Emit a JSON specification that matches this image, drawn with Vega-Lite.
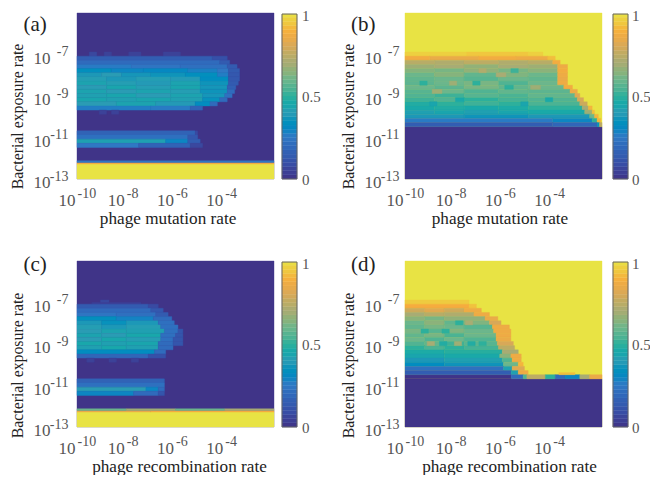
{"$schema":"https://vega.github.io/schema/vega-lite/v6.json","background":"white","padding":{"left":8,"top":9,"right":0,"bottom":0},"bounds":"flush","columns":2,"spacing":{"column":131,"row":82},
"datasets":{
"cb1":[{"x":-1.675,"x2":-1.066,"y":-13,"y2":-12.8,"v":0.01},{"x":-1.675,"x2":-1.066,"y":-12.8,"y2":-12.6,"v":0.04},{"x":-1.675,"x2":-1.066,"y":-12.6,"y2":-12.4,"v":0.06},{"x":-1.675,"x2":-1.066,"y":-12.4,"y2":-12.2,"v":0.09},{"x":-1.675,"x2":-1.066,"y":-12.2,"y2":-12,"v":0.11},{"x":-1.675,"x2":-1.066,"y":-12,"y2":-11.8,"v":0.14},{"x":-1.675,"x2":-1.066,"y":-11.8,"y2":-11.6,"v":0.16},{"x":-1.675,"x2":-1.066,"y":-11.6,"y2":-11.4,"v":0.19},{"x":-1.675,"x2":-1.066,"y":-11.4,"y2":-11.2,"v":0.21},{"x":-1.675,"x2":-1.066,"y":-11.2,"y2":-11,"v":0.24},{"x":-1.675,"x2":-1.066,"y":-11,"y2":-10.8,"v":0.26},{"x":-1.675,"x2":-1.066,"y":-10.8,"y2":-10.6,"v":0.29},{"x":-1.675,"x2":-1.066,"y":-10.6,"y2":-10.4,"v":0.31},{"x":-1.675,"x2":-1.066,"y":-10.4,"y2":-10.2,"v":0.34},{"x":-1.675,"x2":-1.066,"y":-10.2,"y2":-10,"v":0.36},{"x":-1.675,"x2":-1.066,"y":-10,"y2":-9.8,"v":0.39},{"x":-1.675,"x2":-1.066,"y":-9.8,"y2":-9.6,"v":0.41},{"x":-1.675,"x2":-1.066,"y":-9.6,"y2":-9.4,"v":0.44},{"x":-1.675,"x2":-1.066,"y":-9.4,"y2":-9.2,"v":0.46},{"x":-1.675,"x2":-1.066,"y":-9.2,"y2":-9,"v":0.49},{"x":-1.675,"x2":-1.066,"y":-9,"y2":-8.8,"v":0.51},{"x":-1.675,"x2":-1.066,"y":-8.8,"y2":-8.6,"v":0.54},{"x":-1.675,"x2":-1.066,"y":-8.6,"y2":-8.4,"v":0.56},{"x":-1.675,"x2":-1.066,"y":-8.4,"y2":-8.2,"v":0.59},{"x":-1.675,"x2":-1.066,"y":-8.2,"y2":-8,"v":0.61},{"x":-1.675,"x2":-1.066,"y":-8,"y2":-7.8,"v":0.64},{"x":-1.675,"x2":-1.066,"y":-7.8,"y2":-7.6,"v":0.66},{"x":-1.675,"x2":-1.066,"y":-7.6,"y2":-7.4,"v":0.69},{"x":-1.675,"x2":-1.066,"y":-7.4,"y2":-7.2,"v":0.71},{"x":-1.675,"x2":-1.066,"y":-7.2,"y2":-7,"v":0.74},{"x":-1.675,"x2":-1.066,"y":-7,"y2":-6.8,"v":0.76},{"x":-1.675,"x2":-1.066,"y":-6.8,"y2":-6.6,"v":0.79},{"x":-1.675,"x2":-1.066,"y":-6.6,"y2":-6.4,"v":0.81},{"x":-1.675,"x2":-1.066,"y":-6.4,"y2":-6.2,"v":0.84},{"x":-1.675,"x2":-1.066,"y":-6.2,"y2":-6,"v":0.86},{"x":-1.675,"x2":-1.066,"y":-6,"y2":-5.8,"v":0.89},{"x":-1.675,"x2":-1.066,"y":-5.8,"y2":-5.6,"v":0.91},{"x":-1.675,"x2":-1.066,"y":-5.6,"y2":-5.4,"v":0.94},{"x":-1.675,"x2":-1.066,"y":-5.4,"y2":-5.2,"v":0.96},{"x":-1.675,"x2":-1.066,"y":-5.2,"y2":-5.05,"v":0.99}],
"cb2":[{"x":-1.553,"x2":-0.944,"y":-13,"y2":-12.8,"v":0.01},{"x":-1.553,"x2":-0.944,"y":-12.8,"y2":-12.6,"v":0.04},{"x":-1.553,"x2":-0.944,"y":-12.6,"y2":-12.4,"v":0.06},{"x":-1.553,"x2":-0.944,"y":-12.4,"y2":-12.2,"v":0.09},{"x":-1.553,"x2":-0.944,"y":-12.2,"y2":-12,"v":0.11},{"x":-1.553,"x2":-0.944,"y":-12,"y2":-11.8,"v":0.14},{"x":-1.553,"x2":-0.944,"y":-11.8,"y2":-11.6,"v":0.16},{"x":-1.553,"x2":-0.944,"y":-11.6,"y2":-11.4,"v":0.19},{"x":-1.553,"x2":-0.944,"y":-11.4,"y2":-11.2,"v":0.21},{"x":-1.553,"x2":-0.944,"y":-11.2,"y2":-11,"v":0.24},{"x":-1.553,"x2":-0.944,"y":-11,"y2":-10.8,"v":0.26},{"x":-1.553,"x2":-0.944,"y":-10.8,"y2":-10.6,"v":0.29},{"x":-1.553,"x2":-0.944,"y":-10.6,"y2":-10.4,"v":0.31},{"x":-1.553,"x2":-0.944,"y":-10.4,"y2":-10.2,"v":0.34},{"x":-1.553,"x2":-0.944,"y":-10.2,"y2":-10,"v":0.36},{"x":-1.553,"x2":-0.944,"y":-10,"y2":-9.8,"v":0.39},{"x":-1.553,"x2":-0.944,"y":-9.8,"y2":-9.6,"v":0.41},{"x":-1.553,"x2":-0.944,"y":-9.6,"y2":-9.4,"v":0.44},{"x":-1.553,"x2":-0.944,"y":-9.4,"y2":-9.2,"v":0.46},{"x":-1.553,"x2":-0.944,"y":-9.2,"y2":-9,"v":0.49},{"x":-1.553,"x2":-0.944,"y":-9,"y2":-8.8,"v":0.51},{"x":-1.553,"x2":-0.944,"y":-8.8,"y2":-8.6,"v":0.54},{"x":-1.553,"x2":-0.944,"y":-8.6,"y2":-8.4,"v":0.56},{"x":-1.553,"x2":-0.944,"y":-8.4,"y2":-8.2,"v":0.59},{"x":-1.553,"x2":-0.944,"y":-8.2,"y2":-8,"v":0.61},{"x":-1.553,"x2":-0.944,"y":-8,"y2":-7.8,"v":0.64},{"x":-1.553,"x2":-0.944,"y":-7.8,"y2":-7.6,"v":0.66},{"x":-1.553,"x2":-0.944,"y":-7.6,"y2":-7.4,"v":0.69},{"x":-1.553,"x2":-0.944,"y":-7.4,"y2":-7.2,"v":0.71},{"x":-1.553,"x2":-0.944,"y":-7.2,"y2":-7,"v":0.74},{"x":-1.553,"x2":-0.944,"y":-7,"y2":-6.8,"v":0.76},{"x":-1.553,"x2":-0.944,"y":-6.8,"y2":-6.6,"v":0.79},{"x":-1.553,"x2":-0.944,"y":-6.6,"y2":-6.4,"v":0.81},{"x":-1.553,"x2":-0.944,"y":-6.4,"y2":-6.2,"v":0.84},{"x":-1.553,"x2":-0.944,"y":-6.2,"y2":-6,"v":0.86},{"x":-1.553,"x2":-0.944,"y":-6,"y2":-5.8,"v":0.89},{"x":-1.553,"x2":-0.944,"y":-5.8,"y2":-5.6,"v":0.91},{"x":-1.553,"x2":-0.944,"y":-5.6,"y2":-5.4,"v":0.94},{"x":-1.553,"x2":-0.944,"y":-5.4,"y2":-5.2,"v":0.96},{"x":-1.553,"x2":-0.944,"y":-5.2,"y2":-5.05,"v":0.99}],
"bd1":[{"x":-1.675,"x2":-1.066,"y":-13,"y2":-5.05}],"bd2":[{"x":-1.553,"x2":-0.944,"y":-13,"y2":-5.05}],
"lb1":[{"x":-0.86,"y":-5.15,"t":"1"},{"x":-0.86,"y":-9.05,"t":"0.5"},{"x":-0.86,"y":-13.05,"t":"0"}],
"lb2":[{"x":-0.78,"y":-5.15,"t":"1"},{"x":-0.78,"y":-9.05,"t":"0.5"},{"x":-0.78,"y":-13.05,"t":"0"}],
"a":[{"x":-10,"x2":-2,"y":-13,"y2":-5,"v":0},{"x":-10,"x2":-2,"y":-13,"y2":-12.28,"v":1},{"x":-10,"x2":-2,"y":-12.28,"y2":-12.2,"v":0.87},{"x":-10,"x2":-2,"y":-12.2,"y2":-12.12,"v":0.25},
{"x":-9.5,"x2":-9.2,"y":-7.08,"y2":-6.88,"v":0.07},{"x":-8.9,"x2":-8.6,"y":-7.08,"y2":-6.88,"v":0.05},{"x":-7.9,"x2":-7.4,"y":-7.08,"y2":-6.88,"v":0.05},{"x":-6.5,"x2":-5.8,"y":-7.08,"y2":-6.88,"v":0.05},
{"x":-10,"x2":-4.5,"y":-7.28,"y2":-7.08,"v":0.15},{"x":-4.5,"x2":-3.9,"y":-7.28,"y2":-7.08,"v":0.1},
{"x":-10,"x2":-4.2,"y":-7.48,"y2":-7.28,"v":0.2},{"x":-4.2,"x2":-3.8,"y":-7.48,"y2":-7.28,"v":0.14},
{"x":-10,"x2":-7.8,"y":-7.68,"y2":-7.48,"v":0.26},{"x":-7.8,"x2":-5.8,"y":-7.68,"y2":-7.48,"v":0.24},{"x":-5.8,"x2":-3.9,"y":-7.68,"y2":-7.48,"v":0.22},{"x":-3.9,"x2":-3.5,"y":-7.68,"y2":-7.48,"v":0.14},
{"x":-10,"x2":-8.6,"y":-7.88,"y2":-7.68,"v":0.34},{"x":-8.6,"x2":-7.3,"y":-7.88,"y2":-7.68,"v":0.3},{"x":-7.3,"x2":-5.5,"y":-7.88,"y2":-7.68,"v":0.31},{"x":-5.5,"x2":-4.3,"y":-7.88,"y2":-7.68,"v":0.28},{"x":-4.3,"x2":-3.85,"y":-7.88,"y2":-7.68,"v":0.25},{"x":-3.85,"x2":-3.4,"y":-7.88,"y2":-7.68,"v":0.14},
{"x":-10,"x2":-9,"y":-8.08,"y2":-7.88,"v":0.38},{"x":-9,"x2":-8.2,"y":-8.08,"y2":-7.88,"v":0.4},{"x":-8.2,"x2":-7,"y":-8.08,"y2":-7.88,"v":0.37},{"x":-7,"x2":-5.6,"y":-8.08,"y2":-7.88,"v":0.36},{"x":-5.6,"x2":-4.3,"y":-8.08,"y2":-7.88,"v":0.34},{"x":-4.3,"x2":-3.85,"y":-8.08,"y2":-7.88,"v":0.27},{"x":-3.85,"x2":-3.4,"y":-8.08,"y2":-7.88,"v":0.13},
{"x":-10,"x2":-8.8,"y":-8.28,"y2":-8.08,"v":0.41},{"x":-8.8,"x2":-7.6,"y":-8.28,"y2":-8.08,"v":0.38},{"x":-7.6,"x2":-6.2,"y":-8.28,"y2":-8.08,"v":0.41},{"x":-6.2,"x2":-5,"y":-8.28,"y2":-8.08,"v":0.39},{"x":-5,"x2":-3.85,"y":-8.28,"y2":-8.08,"v":0.33},{"x":-3.85,"x2":-3.4,"y":-8.28,"y2":-8.08,"v":0.13},
{"x":-10,"x2":-8.8,"y":-8.48,"y2":-8.28,"v":0.43},{"x":-8.8,"x2":-7.6,"y":-8.48,"y2":-8.28,"v":0.41},{"x":-7.6,"x2":-6.2,"y":-8.48,"y2":-8.28,"v":0.39},{"x":-6.2,"x2":-5,"y":-8.48,"y2":-8.28,"v":0.43},{"x":-5,"x2":-3.85,"y":-8.48,"y2":-8.28,"v":0.36},{"x":-3.85,"x2":-3.45,"y":-8.48,"y2":-8.28,"v":0.14},
{"x":-10,"x2":-8.8,"y":-8.68,"y2":-8.48,"v":0.4},{"x":-8.8,"x2":-7.6,"y":-8.68,"y2":-8.48,"v":0.44},{"x":-7.6,"x2":-6.2,"y":-8.68,"y2":-8.48,"v":0.41},{"x":-6.2,"x2":-5,"y":-8.68,"y2":-8.48,"v":0.44},{"x":-5,"x2":-3.9,"y":-8.68,"y2":-8.48,"v":0.37},{"x":-3.9,"x2":-3.55,"y":-8.68,"y2":-8.48,"v":0.16},
{"x":-10,"x2":-8.8,"y":-8.88,"y2":-8.68,"v":0.43},{"x":-8.8,"x2":-7.6,"y":-8.88,"y2":-8.68,"v":0.4},{"x":-7.6,"x2":-6.2,"y":-8.88,"y2":-8.68,"v":0.43},{"x":-6.2,"x2":-5,"y":-8.88,"y2":-8.68,"v":0.41},{"x":-5,"x2":-3.9,"y":-8.88,"y2":-8.68,"v":0.36},{"x":-3.9,"x2":-3.6,"y":-8.88,"y2":-8.68,"v":0.2},
{"x":-10,"x2":-8.8,"y":-9.08,"y2":-8.88,"v":0.42},{"x":-8.8,"x2":-7.6,"y":-9.08,"y2":-8.88,"v":0.44},{"x":-7.6,"x2":-6.2,"y":-9.08,"y2":-8.88,"v":0.4},{"x":-6.2,"x2":-4.9,"y":-9.08,"y2":-8.88,"v":0.43},{"x":-4.9,"x2":-4,"y":-9.08,"y2":-8.88,"v":0.37},{"x":-4,"x2":-3.7,"y":-9.08,"y2":-8.88,"v":0.22},
{"x":-10,"x2":-8.8,"y":-9.28,"y2":-9.08,"v":0.44},{"x":-8.8,"x2":-7.6,"y":-9.28,"y2":-9.08,"v":0.42},{"x":-7.6,"x2":-6.2,"y":-9.28,"y2":-9.08,"v":0.44},{"x":-6.2,"x2":-4.9,"y":-9.28,"y2":-9.08,"v":0.42},{"x":-4.9,"x2":-4.2,"y":-9.28,"y2":-9.08,"v":0.35},{"x":-4.2,"x2":-3.9,"y":-9.28,"y2":-9.08,"v":0.2},
{"x":-10,"x2":-8.4,"y":-9.48,"y2":-9.28,"v":0.4},{"x":-8.4,"x2":-6.8,"y":-9.48,"y2":-9.28,"v":0.43},{"x":-6.8,"x2":-5.2,"y":-9.48,"y2":-9.28,"v":0.39},{"x":-5.2,"x2":-4.6,"y":-9.48,"y2":-9.28,"v":0.33},{"x":-4.6,"x2":-4.3,"y":-9.48,"y2":-9.28,"v":0.2},
{"x":-10,"x2":-7,"y":-9.68,"y2":-9.48,"v":0.27},{"x":-7,"x2":-5.4,"y":-9.68,"y2":-9.48,"v":0.26},{"x":-5.4,"x2":-4.9,"y":-9.68,"y2":-9.48,"v":0.17},
{"x":-9.1,"x2":-8.8,"y":-9.88,"y2":-9.68,"v":0.05},{"x":-8.6,"x2":-8.3,"y":-9.88,"y2":-9.68,"v":0.05},
{"x":-10,"x2":-5.2,"y":-10.88,"y2":-10.68,"v":0.17},{"x":-5.2,"x2":-5.1,"y":-10.88,"y2":-10.68,"v":0.08},
{"x":-10,"x2":-5.5,"y":-11.08,"y2":-10.88,"v":0.22},{"x":-5.5,"x2":-5.1,"y":-11.08,"y2":-10.88,"v":0.13},
{"x":-10,"x2":-6.4,"y":-11.28,"y2":-11.08,"v":0.42},{"x":-6.4,"x2":-5.5,"y":-11.28,"y2":-11.08,"v":0.3},{"x":-5.5,"x2":-5,"y":-11.28,"y2":-11.08,"v":0.15},
{"x":-10,"x2":-7.5,"y":-11.48,"y2":-11.28,"v":0.25},{"x":-7.5,"x2":-5.4,"y":-11.48,"y2":-11.28,"v":0.17},{"x":-5.4,"x2":-4.9,"y":-11.48,"y2":-11.28,"v":0.07}],
"b":[{"x":-10,"x2":-2,"y":-13,"y2":-5,"v":1},{"x":-10,"x2":-2,"y":-13,"y2":-10.48,"v":0},
{"x":-10,"x2":-7.5,"y":-7.08,"y2":-6.88,"v":0.96},{"x":-7.5,"x2":-5,"y":-7.08,"y2":-6.88,"v":0.94},{"x":-5,"x2":-4.4,"y":-7.08,"y2":-6.88,"v":0.96},
{"x":-10,"x2":-9,"y":-7.28,"y2":-7.08,"v":0.87},{"x":-9,"x2":-7,"y":-7.28,"y2":-7.08,"v":0.85},{"x":-7,"x2":-5.5,"y":-7.28,"y2":-7.08,"v":0.87},{"x":-5.5,"x2":-4.2,"y":-7.28,"y2":-7.08,"v":0.86},{"x":-4.2,"x2":-3.9,"y":-7.28,"y2":-7.08,"v":0.92},
{"x":-10,"x2":-8.8,"y":-7.48,"y2":-7.28,"v":0.74},{"x":-8.8,"x2":-7.6,"y":-7.48,"y2":-7.28,"v":0.72},{"x":-7.6,"x2":-6.2,"y":-7.48,"y2":-7.28,"v":0.75},{"x":-6.2,"x2":-5,"y":-7.48,"y2":-7.28,"v":0.72},{"x":-5,"x2":-4,"y":-7.48,"y2":-7.28,"v":0.74},{"x":-4,"x2":-3.7,"y":-7.48,"y2":-7.28,"v":0.87},
{"x":-10,"x2":-8.8,"y":-7.68,"y2":-7.48,"v":0.68},{"x":-8.8,"x2":-7.6,"y":-7.68,"y2":-7.48,"v":0.7},{"x":-7.6,"x2":-6.2,"y":-7.68,"y2":-7.48,"v":0.66},{"x":-6.2,"x2":-5,"y":-7.68,"y2":-7.48,"v":0.7},{"x":-5,"x2":-3.8,"y":-7.68,"y2":-7.48,"v":0.68},{"x":-3.8,"x2":-3.4,"y":-7.68,"y2":-7.48,"v":0.86},
{"x":-10,"x2":-8.8,"y":-7.88,"y2":-7.68,"v":0.64},{"x":-8.8,"x2":-7.6,"y":-7.88,"y2":-7.68,"v":0.62},{"x":-7.6,"x2":-6.2,"y":-7.88,"y2":-7.68,"v":0.66},{"x":-6.2,"x2":-5,"y":-7.88,"y2":-7.68,"v":0.62},{"x":-5,"x2":-3.8,"y":-7.88,"y2":-7.68,"v":0.65},{"x":-3.8,"x2":-3.4,"y":-7.88,"y2":-7.68,"v":0.87},
{"x":-10,"x2":-8.8,"y":-8.08,"y2":-7.88,"v":0.6},{"x":-8.8,"x2":-7.6,"y":-8.08,"y2":-7.88,"v":0.64},{"x":-7.6,"x2":-6.2,"y":-8.08,"y2":-7.88,"v":0.58},{"x":-6.2,"x2":-5,"y":-8.08,"y2":-7.88,"v":0.63},{"x":-5,"x2":-3.8,"y":-8.08,"y2":-7.88,"v":0.6},{"x":-3.8,"x2":-3.4,"y":-8.08,"y2":-7.88,"v":0.86},
{"x":-10,"x2":-8.8,"y":-8.28,"y2":-8.08,"v":0.58},{"x":-8.8,"x2":-7.6,"y":-8.28,"y2":-8.08,"v":0.6},{"x":-7.6,"x2":-6.2,"y":-8.28,"y2":-8.08,"v":0.56},{"x":-6.2,"x2":-5,"y":-8.28,"y2":-8.08,"v":0.6},{"x":-5,"x2":-3.8,"y":-8.28,"y2":-8.08,"v":0.58},{"x":-3.8,"x2":-3.4,"y":-8.28,"y2":-8.08,"v":0.85},
{"x":-10,"x2":-8.8,"y":-8.48,"y2":-8.28,"v":0.57},{"x":-8.8,"x2":-7.6,"y":-8.48,"y2":-8.28,"v":0.6},{"x":-7.6,"x2":-6.2,"y":-8.48,"y2":-8.28,"v":0.62},{"x":-6.2,"x2":-5,"y":-8.48,"y2":-8.28,"v":0.55},{"x":-5,"x2":-3.8,"y":-8.48,"y2":-8.28,"v":0.6},{"x":-3.8,"x2":-3.4,"y":-8.48,"y2":-8.28,"v":0.86},
{"x":-10,"x2":-8.8,"y":-8.68,"y2":-8.48,"v":0.6},{"x":-8.8,"x2":-7.6,"y":-8.68,"y2":-8.48,"v":0.57},{"x":-7.6,"x2":-6.2,"y":-8.68,"y2":-8.48,"v":0.62},{"x":-6.2,"x2":-5,"y":-8.68,"y2":-8.48,"v":0.58},{"x":-5,"x2":-3.55,"y":-8.68,"y2":-8.48,"v":0.6},{"x":-3.55,"x2":-3.2,"y":-8.68,"y2":-8.48,"v":0.87},
{"x":-10,"x2":-8.8,"y":-8.88,"y2":-8.68,"v":0.56},{"x":-8.8,"x2":-7.6,"y":-8.88,"y2":-8.68,"v":0.6},{"x":-7.6,"x2":-6.2,"y":-8.88,"y2":-8.68,"v":0.55},{"x":-6.2,"x2":-5,"y":-8.88,"y2":-8.68,"v":0.58},{"x":-5,"x2":-3.3,"y":-8.88,"y2":-8.68,"v":0.57},{"x":-3.3,"x2":-3,"y":-8.88,"y2":-8.68,"v":0.85},
{"x":-10,"x2":-8.8,"y":-9.08,"y2":-8.88,"v":0.55},{"x":-8.8,"x2":-7.6,"y":-9.08,"y2":-8.88,"v":0.52},{"x":-7.6,"x2":-6.2,"y":-9.08,"y2":-8.88,"v":0.56},{"x":-6.2,"x2":-5,"y":-9.08,"y2":-8.88,"v":0.54},{"x":-5,"x2":-3.1,"y":-9.08,"y2":-8.88,"v":0.58},{"x":-3.1,"x2":-2.9,"y":-9.08,"y2":-8.88,"v":0.82},
{"x":-10,"x2":-8.8,"y":-9.28,"y2":-9.08,"v":0.52},{"x":-8.8,"x2":-7.6,"y":-9.28,"y2":-9.08,"v":0.55},{"x":-7.6,"x2":-6.2,"y":-9.28,"y2":-9.08,"v":0.5},{"x":-6.2,"x2":-5,"y":-9.28,"y2":-9.08,"v":0.53},{"x":-5,"x2":-3,"y":-9.28,"y2":-9.08,"v":0.55},{"x":-3,"x2":-2.75,"y":-9.28,"y2":-9.08,"v":0.8},
{"x":-10,"x2":-8.8,"y":-9.48,"y2":-9.28,"v":0.48},{"x":-8.8,"x2":-7.6,"y":-9.48,"y2":-9.28,"v":0.5},{"x":-7.6,"x2":-6.2,"y":-9.48,"y2":-9.28,"v":0.52},{"x":-6.2,"x2":-5,"y":-9.48,"y2":-9.28,"v":0.5},{"x":-5,"x2":-2.9,"y":-9.48,"y2":-9.28,"v":0.54},{"x":-2.9,"x2":-2.6,"y":-9.48,"y2":-9.28,"v":0.78},
{"x":-10,"x2":-8.8,"y":-9.68,"y2":-9.48,"v":0.46},{"x":-8.8,"x2":-7.6,"y":-9.68,"y2":-9.48,"v":0.48},{"x":-7.6,"x2":-6.2,"y":-9.68,"y2":-9.48,"v":0.46},{"x":-6.2,"x2":-5,"y":-9.68,"y2":-9.48,"v":0.47},{"x":-5,"x2":-2.8,"y":-9.68,"y2":-9.48,"v":0.5},{"x":-2.8,"x2":-2.55,"y":-9.68,"y2":-9.48,"v":0.7},{"x":-2.55,"x2":-2.4,"y":-9.68,"y2":-9.48,"v":0.9},
{"x":-10,"x2":-8.8,"y":-9.88,"y2":-9.68,"v":0.42},{"x":-8.8,"x2":-7.6,"y":-9.88,"y2":-9.68,"v":0.44},{"x":-7.6,"x2":-6.2,"y":-9.88,"y2":-9.68,"v":0.42},{"x":-6.2,"x2":-5,"y":-9.88,"y2":-9.68,"v":0.44},{"x":-5,"x2":-2.7,"y":-9.88,"y2":-9.68,"v":0.46},{"x":-2.7,"x2":-2.4,"y":-9.88,"y2":-9.68,"v":0.68},{"x":-2.4,"x2":-2.3,"y":-9.88,"y2":-9.68,"v":0.92},
{"x":-10,"x2":-7.6,"y":-10.08,"y2":-9.88,"v":0.38},{"x":-7.6,"x2":-5,"y":-10.08,"y2":-9.88,"v":0.36},{"x":-5,"x2":-2.5,"y":-10.08,"y2":-9.88,"v":0.38},{"x":-2.5,"x2":-2.3,"y":-10.08,"y2":-9.88,"v":0.6},{"x":-2.3,"x2":-2.15,"y":-10.08,"y2":-9.88,"v":0.9},
{"x":-10,"x2":-4,"y":-10.28,"y2":-10.08,"v":0.26},{"x":-4,"x2":-2.4,"y":-10.28,"y2":-10.08,"v":0.3},{"x":-2.4,"x2":-2.2,"y":-10.28,"y2":-10.08,"v":0.5},{"x":-2.2,"x2":-2.05,"y":-10.28,"y2":-10.08,"v":0.9},
{"x":-10,"x2":-4,"y":-10.48,"y2":-10.28,"v":0.15},{"x":-4,"x2":-2.2,"y":-10.48,"y2":-10.28,"v":0.18},{"x":-2.2,"x2":-2.1,"y":-10.48,"y2":-10.28,"v":0.35},{"x":-2.1,"x2":-2,"y":-10.48,"y2":-10.28,"v":0.75},
{"x":-9.4,"x2":-9.1,"y":-8.48,"y2":-8.28,"v":0.5},{"x":-7.95,"x2":-7.6,"y":-9.28,"y2":-9.08,"v":0.46},{"x":-5.95,"x2":-5.6,"y":-8.68,"y2":-8.48,"v":0.5},{"x":-9,"x2":-8.7,"y":-9.48,"y2":-9.28,"v":0.44},{"x":-5.7,"x2":-5.4,"y":-7.88,"y2":-7.68,"v":0.52},{"x":-7.25,"x2":-6.95,"y":-8.48,"y2":-8.28,"v":0.5},{"x":-4.3,"x2":-4,"y":-9.28,"y2":-9.08,"v":0.46},{"x":-5.3,"x2":-5,"y":-9.48,"y2":-9.28,"v":0.44},{"x":-7,"x2":-6.7,"y":-7.88,"y2":-7.68,"v":0.72},{"x":-8.2,"x2":-7.9,"y":-8.48,"y2":-8.28,"v":0.68},{"x":-6.3,"x2":-5.9,"y":-8.08,"y2":-7.88,"v":0.7},{"x":-8.9,"x2":-8.5,"y":-8.88,"y2":-8.68,"v":0.68},{"x":-4.9,"x2":-4.5,"y":-8.68,"y2":-8.48,"v":0.68}],
"c":[{"x":-10,"x2":-2,"y":-13,"y2":-5,"v":0},{"x":-10,"x2":-2,"y":-13,"y2":-12.28,"v":1},{"x":-10,"x2":-7,"y":-12.28,"y2":-12.2,"v":0.85},{"x":-7,"x2":-2,"y":-12.28,"y2":-12.2,"v":0.88},{"x":-10,"x2":-8,"y":-12.2,"y2":-12.12,"v":0.6},{"x":-8,"x2":-6,"y":-12.2,"y2":-12.12,"v":0.68},{"x":-6,"x2":-4,"y":-12.2,"y2":-12.12,"v":0.6},{"x":-4,"x2":-2,"y":-12.2,"y2":-12.12,"v":0.7},
{"x":-9.05,"x2":-8.7,"y":-7.08,"y2":-6.88,"v":0.07},{"x":-9.4,"x2":-7.4,"y":-7.08,"y2":-7.0,"v":0.04},
{"x":-10,"x2":-7.1,"y":-7.28,"y2":-7.08,"v":0.14},{"x":-7.1,"x2":-6.7,"y":-7.28,"y2":-7.08,"v":0.08},
{"x":-10,"x2":-7,"y":-7.48,"y2":-7.28,"v":0.2},{"x":-7,"x2":-6.5,"y":-7.48,"y2":-7.28,"v":0.13},
{"x":-10,"x2":-8.4,"y":-7.68,"y2":-7.48,"v":0.24},{"x":-8.4,"x2":-6.8,"y":-7.68,"y2":-7.48,"v":0.22},{"x":-6.8,"x2":-6.3,"y":-7.68,"y2":-7.48,"v":0.14},
{"x":-10,"x2":-8.4,"y":-7.88,"y2":-7.68,"v":0.34},{"x":-8.4,"x2":-6.9,"y":-7.88,"y2":-7.68,"v":0.29},{"x":-6.9,"x2":-6.15,"y":-7.88,"y2":-7.68,"v":0.2},
{"x":-10,"x2":-9,"y":-8.08,"y2":-7.88,"v":0.38},{"x":-9,"x2":-8,"y":-8.08,"y2":-7.88,"v":0.35},{"x":-8,"x2":-6.7,"y":-8.08,"y2":-7.88,"v":0.38},{"x":-6.7,"x2":-6.05,"y":-8.08,"y2":-7.88,"v":0.22},
{"x":-10,"x2":-9,"y":-8.28,"y2":-8.08,"v":0.41},{"x":-9,"x2":-8,"y":-8.28,"y2":-8.08,"v":0.38},{"x":-8,"x2":-6.6,"y":-8.28,"y2":-8.08,"v":0.41},{"x":-6.6,"x2":-5.9,"y":-8.28,"y2":-8.08,"v":0.22},
{"x":-10,"x2":-9,"y":-8.48,"y2":-8.28,"v":0.4},{"x":-9,"x2":-8,"y":-8.48,"y2":-8.28,"v":0.43},{"x":-8,"x2":-6.45,"y":-8.48,"y2":-8.28,"v":0.42},{"x":-6.45,"x2":-5.9,"y":-8.48,"y2":-8.28,"v":0.22},{"x":-5.9,"x2":-5.7,"y":-8.48,"y2":-8.28,"v":0.12},
{"x":-10,"x2":-9,"y":-8.68,"y2":-8.48,"v":0.43},{"x":-9,"x2":-8,"y":-8.68,"y2":-8.48,"v":0.4},{"x":-8,"x2":-6.6,"y":-8.68,"y2":-8.48,"v":0.45},{"x":-6.6,"x2":-6,"y":-8.68,"y2":-8.48,"v":0.22},{"x":-6,"x2":-5.7,"y":-8.68,"y2":-8.48,"v":0.12},
{"x":-10,"x2":-9,"y":-8.88,"y2":-8.68,"v":0.4},{"x":-9,"x2":-8,"y":-8.88,"y2":-8.68,"v":0.45},{"x":-8,"x2":-6.6,"y":-8.88,"y2":-8.68,"v":0.41},{"x":-6.6,"x2":-6.1,"y":-8.88,"y2":-8.68,"v":0.22},{"x":-6.1,"x2":-5.7,"y":-8.88,"y2":-8.68,"v":0.12},
{"x":-10,"x2":-9,"y":-9.08,"y2":-8.88,"v":0.45},{"x":-9,"x2":-8,"y":-9.08,"y2":-8.88,"v":0.42},{"x":-8,"x2":-6.7,"y":-9.08,"y2":-8.88,"v":0.44},{"x":-6.7,"x2":-6.1,"y":-9.08,"y2":-8.88,"v":0.2},{"x":-6.1,"x2":-5.7,"y":-9.08,"y2":-8.88,"v":0.12},
{"x":-10,"x2":-9,"y":-9.28,"y2":-9.08,"v":0.42},{"x":-9,"x2":-8,"y":-9.28,"y2":-9.08,"v":0.45},{"x":-8,"x2":-6.7,"y":-9.28,"y2":-9.08,"v":0.42},{"x":-6.7,"x2":-6.1,"y":-9.28,"y2":-9.08,"v":0.2},
{"x":-10,"x2":-6.85,"y":-9.48,"y2":-9.28,"v":0.33},{"x":-6.85,"x2":-6.4,"y":-9.48,"y2":-9.28,"v":0.2},
{"x":-10,"x2":-7.1,"y":-9.68,"y2":-9.48,"v":0.18},{"x":-7.1,"x2":-6.4,"y":-9.68,"y2":-9.48,"v":0.1},
{"x":-9.6,"x2":-9.3,"y":-9.88,"y2":-9.68,"v":0.05},{"x":-8.7,"x2":-8.4,"y":-9.88,"y2":-9.68,"v":0.05},{"x":-7.8,"x2":-7.5,"y":-9.88,"y2":-9.68,"v":0.05},
{"x":-10,"x2":-6.45,"y":-10.88,"y2":-10.68,"v":0.17},
{"x":-10,"x2":-6.45,"y":-11.08,"y2":-10.88,"v":0.22},
{"x":-10,"x2":-7.2,"y":-11.28,"y2":-11.08,"v":0.4},{"x":-7.2,"x2":-6.7,"y":-11.28,"y2":-11.08,"v":0.3},{"x":-6.7,"x2":-6.45,"y":-11.28,"y2":-11.08,"v":0.2},
{"x":-10,"x2":-7.7,"y":-11.48,"y2":-11.28,"v":0.3},{"x":-7.7,"x2":-6.7,"y":-11.48,"y2":-11.28,"v":0.2},{"x":-6.7,"x2":-6.45,"y":-11.48,"y2":-11.28,"v":0.12}],
"d":[{"x":-10,"x2":-2,"y":-13,"y2":-5,"v":1},{"x":-10,"x2":-2,"y":-13,"y2":-10.68,"v":0},{"x":-10,"x2":-5.69,"y":-10.68,"y2":-10.48,"v":0},
{"x":-10,"x2":-7.4,"y":-7.08,"y2":-6.88,"v":0.95},
{"x":-10,"x2":-7.4,"y":-7.28,"y2":-7.08,"v":0.88},{"x":-7.4,"x2":-7.1,"y":-7.28,"y2":-7.08,"v":0.93},
{"x":-10,"x2":-9.2,"y":-7.48,"y2":-7.28,"v":0.78},{"x":-9.2,"x2":-8.4,"y":-7.48,"y2":-7.28,"v":0.82},{"x":-8.4,"x2":-7.6,"y":-7.48,"y2":-7.28,"v":0.78},{"x":-7.6,"x2":-6.9,"y":-7.48,"y2":-7.28,"v":0.86},
{"x":-10,"x2":-9.2,"y":-7.68,"y2":-7.48,"v":0.7},{"x":-9.2,"x2":-8.4,"y":-7.68,"y2":-7.48,"v":0.74},{"x":-8.4,"x2":-7.2,"y":-7.68,"y2":-7.48,"v":0.72},{"x":-7.2,"x2":-6.57,"y":-7.68,"y2":-7.48,"v":0.86},
{"x":-10,"x2":-9.2,"y":-7.88,"y2":-7.68,"v":0.65},{"x":-9.2,"x2":-8.4,"y":-7.88,"y2":-7.68,"v":0.62},{"x":-8.4,"x2":-6.75,"y":-7.88,"y2":-7.68,"v":0.66},{"x":-6.75,"x2":-6.23,"y":-7.88,"y2":-7.68,"v":0.85},
{"x":-10,"x2":-9.2,"y":-8.08,"y2":-7.88,"v":0.6},{"x":-9.2,"x2":-8.4,"y":-8.08,"y2":-7.88,"v":0.65},{"x":-8.4,"x2":-7.6,"y":-8.08,"y2":-7.88,"v":0.58},{"x":-7.6,"x2":-6.57,"y":-8.08,"y2":-7.88,"v":0.63},{"x":-6.57,"x2":-6.1,"y":-8.08,"y2":-7.88,"v":0.8},
{"x":-10,"x2":-9.2,"y":-8.28,"y2":-8.08,"v":0.58},{"x":-9.2,"x2":-8.4,"y":-8.28,"y2":-8.08,"v":0.62},{"x":-8.4,"x2":-7.6,"y":-8.28,"y2":-8.08,"v":0.6},{"x":-7.6,"x2":-6.45,"y":-8.28,"y2":-8.08,"v":0.56},{"x":-6.45,"x2":-5.76,"y":-8.28,"y2":-8.08,"v":0.86},
{"x":-10,"x2":-9.2,"y":-8.48,"y2":-8.28,"v":0.62},{"x":-9.2,"x2":-8.4,"y":-8.48,"y2":-8.28,"v":0.56},{"x":-8.4,"x2":-7.6,"y":-8.48,"y2":-8.28,"v":0.63},{"x":-7.6,"x2":-6.4,"y":-8.48,"y2":-8.28,"v":0.6},{"x":-6.4,"x2":-5.7,"y":-8.48,"y2":-8.28,"v":0.86},
{"x":-10,"x2":-9.2,"y":-8.68,"y2":-8.48,"v":0.58},{"x":-9.2,"x2":-8.4,"y":-8.68,"y2":-8.48,"v":0.62},{"x":-8.4,"x2":-7.6,"y":-8.68,"y2":-8.48,"v":0.54},{"x":-7.6,"x2":-6.3,"y":-8.68,"y2":-8.48,"v":0.6},{"x":-6.3,"x2":-5.7,"y":-8.68,"y2":-8.48,"v":0.86},
{"x":-10,"x2":-9.2,"y":-8.88,"y2":-8.68,"v":0.6},{"x":-9.2,"x2":-8.4,"y":-8.88,"y2":-8.68,"v":0.55},{"x":-8.4,"x2":-7.6,"y":-8.88,"y2":-8.68,"v":0.6},{"x":-7.6,"x2":-6.3,"y":-8.88,"y2":-8.68,"v":0.55},{"x":-6.3,"x2":-5.7,"y":-8.88,"y2":-8.68,"v":0.85},
{"x":-10,"x2":-9.2,"y":-9.08,"y2":-8.88,"v":0.55},{"x":-9.2,"x2":-8.4,"y":-9.08,"y2":-8.88,"v":0.58},{"x":-8.4,"x2":-7.6,"y":-9.08,"y2":-8.88,"v":0.52},{"x":-7.6,"x2":-6.25,"y":-9.08,"y2":-8.88,"v":0.56},{"x":-6.25,"x2":-5.6,"y":-9.08,"y2":-8.88,"v":0.8},
{"x":-10,"x2":-9.2,"y":-9.28,"y2":-9.08,"v":0.5},{"x":-9.2,"x2":-8.4,"y":-9.28,"y2":-9.08,"v":0.54},{"x":-8.4,"x2":-7.6,"y":-9.28,"y2":-9.08,"v":0.5},{"x":-7.6,"x2":-6.2,"y":-9.28,"y2":-9.08,"v":0.53},{"x":-6.2,"x2":-5.55,"y":-9.28,"y2":-9.08,"v":0.75},
{"x":-10,"x2":-8.4,"y":-9.48,"y2":-9.28,"v":0.47},{"x":-8.4,"x2":-6.05,"y":-9.48,"y2":-9.28,"v":0.49},{"x":-6.05,"x2":-5.4,"y":-9.48,"y2":-9.28,"v":0.7},
{"x":-10,"x2":-8.4,"y":-9.68,"y2":-9.48,"v":0.44},{"x":-8.4,"x2":-6.15,"y":-9.68,"y2":-9.48,"v":0.46},{"x":-6.15,"x2":-5.7,"y":-9.68,"y2":-9.48,"v":0.65},{"x":-5.7,"x2":-5.28,"y":-9.68,"y2":-9.48,"v":0.86},
{"x":-10,"x2":-8.4,"y":-9.88,"y2":-9.68,"v":0.38},{"x":-8.4,"x2":-6.05,"y":-9.88,"y2":-9.68,"v":0.42},{"x":-6.05,"x2":-5.65,"y":-9.88,"y2":-9.68,"v":0.55},{"x":-5.65,"x2":-5.28,"y":-9.88,"y2":-9.68,"v":0.86},
{"x":-10,"x2":-8.4,"y":-10.08,"y2":-9.88,"v":0.33},{"x":-8.4,"x2":-6,"y":-10.08,"y2":-9.88,"v":0.36},{"x":-6,"x2":-5.4,"y":-10.08,"y2":-9.88,"v":0.6},{"x":-5.4,"x2":-5.2,"y":-10.08,"y2":-9.88,"v":0.9},
{"x":-10,"x2":-6,"y":-10.28,"y2":-10.08,"v":0.22},{"x":-6,"x2":-5.65,"y":-10.28,"y2":-10.08,"v":0.42},{"x":-5.65,"x2":-5.15,"y":-10.28,"y2":-10.08,"v":0.82},
{"x":-10,"x2":-5.69,"y":-10.48,"y2":-10.28,"v":0.15},{"x":-5.69,"x2":-5.4,"y":-10.48,"y2":-10.28,"v":0.42},{"x":-5.4,"x2":-5,"y":-10.48,"y2":-10.28,"v":0.86},
{"x":-5.69,"x2":-5.2,"y":-10.68,"y2":-10.48,"v":0.2},{"x":-5.2,"x2":-5.05,"y":-10.68,"y2":-10.48,"v":0.55},{"x":-5.05,"x2":-4.3,"y":-10.68,"y2":-10.48,"v":0.75},{"x":-4.3,"x2":-3.9,"y":-10.68,"y2":-10.48,"v":0.5},{"x":-3.9,"x2":-3.5,"y":-10.68,"y2":-10.48,"v":0.2},{"x":-3.5,"x2":-2.9,"y":-10.68,"y2":-10.48,"v":0.3},{"x":-2.9,"x2":-2.5,"y":-10.68,"y2":-10.48,"v":0.7},{"x":-2.5,"x2":-2,"y":-10.68,"y2":-10.48,"v":0.85},
{"x":-3.75,"x2":-3.1,"y":-10.48,"y2":-10.38,"v":0.92},
{"x":-8.6,"x2":-8.3,"y":-9.08,"y2":-8.88,"v":0.48},{"x":-7,"x2":-6.7,"y":-9.08,"y2":-8.88,"v":0.5},{"x":-9.35,"x2":-9.05,"y":-8.48,"y2":-8.28,"v":0.5},{"x":-7.95,"x2":-7.65,"y":-8.08,"y2":-7.88,"v":0.5},{"x":-7.45,"x2":-7.15,"y":-9.08,"y2":-8.88,"v":0.48},{"x":-8.5,"x2":-8.2,"y":-8.48,"y2":-8.28,"v":0.5},{"x":-9.1,"x2":-8.8,"y":-9.08,"y2":-8.88,"v":0.7},{"x":-8,"x2":-7.7,"y":-9.08,"y2":-8.88,"v":0.68},{"x":-7.55,"x2":-7.25,"y":-8.08,"y2":-7.88,"v":0.7}],
"ta":[{"x":-11.7,"y":-5.58,"t":"(a)"}],"tb":[{"x":-11.7,"y":-5.58,"t":"(b)"}],"tc":[{"x":-11.7,"y":-5.2,"t":"(c)"}],"td":[{"x":-11.7,"y":-5.2,"t":"(d)"}]},
"config":{"view":{"stroke":null},"font":"Liberation Serif","text":{"font":"Liberation Serif"},"axis":{"grid":false,"domain":false,"ticks":false,"labelOverlap":false,"labelBound":false,"labelFlush":false,"labelFont":"Liberation Serif","titleFont":"Liberation Serif","labelColor":"#555555","titleColor":"#222222","titleFontWeight":"normal"}},
"concat":[
{"width":197,"height":166,"resolve":{"axis":{"x":"independent","y":"independent"}},"layer":[
{"data":{"name":"a"},"mark":{"type":"rect","strokeWidth":0.4},"encoding":{
"x":{"field":"x","type":"quantitative","scale":{"domain":[-10,-2],"nice":false,"zero":false},"axis":{"orient":"bottom","values":[-10,-8,-6,-4],"labelExpr":"datum.value==-10?'10\u2009':'10'","labelFontSize":17,"labelAlign":"right","labelBaseline":"middle","labelOffset":-2,"labelPadding":21,"title":"phage mutation rate","titleFontSize":17.2,"titleX":90.6,"titlePadding":1}},"x2":{"field":"x2"},
"y":{"field":"y","type":"quantitative","scale":{"domain":[-13,-5],"nice":false,"zero":false},"axis":{"orient":"left","values":[-13,-11,-9,-7],"labelExpr":"datum.value>-10?'10':'10\u00a0\u00a0'","labelFontSize":17,"labelAlign":"right","labelBaseline":"middle","labelOffset":3.5,"labelPadding":27,"title":"Bacterial exposure rate","titleFontSize":15.8,"titleX":-60,"titleY":103,"titleBaseline":"middle"}},"y2":{"field":"y2"},
"color":{"field":"v","type":"quantitative","scale":{"domain":[0,0.1,0.25,0.4,0.5,0.6,0.7,0.8,0.88,0.95,1],"range":["#403488","#3650a8","#2f78c4","#2a9cb4","#2db09c","#6cb68c","#a8ac74","#d8a858","#f6ac3e","#eecb40","#e8e344"]},"legend":null},
"stroke":{"field":"v","type":"quantitative","scale":{"domain":[0,0.1,0.25,0.4,0.5,0.6,0.7,0.8,0.88,0.95,1],"range":["#403488","#3650a8","#2f78c4","#2a9cb4","#2db09c","#6cb68c","#a8ac74","#d8a858","#f6ac3e","#eecb40","#e8e344"]},"legend":null}}},
{"data":{"name":"ta"},"mark":{"type":"text","fontSize":21,"color":"#222222"},"encoding":{"text":{"field":"t"},
"x":{"field":"x","type":"quantitative","axis":{"orient":"bottom","values":[-10,-8,-6,-4],"labelExpr":"''+datum.value","labelFontSize":14,"labelAlign":"left","labelBaseline":"middle","labelOffset":0,"labelPadding":14,"title":null}},
"y":{"field":"y","type":"quantitative","axis":{"orient":"left","values":[-13,-11,-9,-7],"labelExpr":"datum.value>-10?''+datum.value:datum.value+'\u00a0'","labelFontSize":14,"labelAlign":"right","labelBaseline":"middle","labelOffset":-3,"labelPadding":9,"title":null}}}},
{"data":{"name":"cb1"},"mark":{"type":"rect","strokeWidth":0.4},"encoding":{"x":{"field":"x","type":"quantitative","axis":null},"x2":{"field":"x2"},"y":{"field":"y","type":"quantitative","axis":null},"y2":{"field":"y2"},"color":{"field":"v","type":"quantitative","legend":null},"stroke":{"field":"v","type":"quantitative","legend":null}}},
{"data":{"name":"bd1"},"mark":{"type":"rect","filled":false,"stroke":"#666666","strokeWidth":1},"encoding":{"x":{"field":"x","type":"quantitative","axis":null},"x2":{"field":"x2"},"y":{"field":"y","type":"quantitative","axis":null},"y2":{"field":"y2"}}},
{"data":{"name":"lb1"},"mark":{"type":"text","fontSize":15,"align":"left","color":"#555555"},"encoding":{"text":{"field":"t"},"x":{"field":"x","type":"quantitative","axis":null},"y":{"field":"y","type":"quantitative","axis":null}}}]},
{"width":197,"height":166,"resolve":{"axis":{"x":"independent","y":"independent"}},"layer":[
{"data":{"name":"b"},"mark":{"type":"rect","strokeWidth":0.4},"encoding":{
"x":{"field":"x","type":"quantitative","scale":{"domain":[-10,-2],"nice":false,"zero":false},"axis":{"orient":"bottom","values":[-10,-8,-6,-4],"labelExpr":"datum.value==-10?'10\u2009':'10'","labelFontSize":17,"labelAlign":"right","labelBaseline":"middle","labelOffset":-2,"labelPadding":21,"title":"phage mutation rate","titleFontSize":17.2,"titleX":94.5,"titlePadding":1}},"x2":{"field":"x2"},
"y":{"field":"y","type":"quantitative","scale":{"domain":[-13,-5],"nice":false,"zero":false},"axis":{"orient":"left","values":[-13,-11,-9,-7],"labelExpr":"datum.value>-10?'10':'10\u00a0\u00a0'","labelFontSize":17,"labelAlign":"right","labelBaseline":"middle","labelOffset":3.5,"labelPadding":24,"title":"Bacterial exposure rate","titleFontSize":15.8,"titleX":-57,"titleY":103,"titleBaseline":"middle"}},"y2":{"field":"y2"},
"color":{"field":"v","type":"quantitative","scale":{"domain":[0,0.1,0.25,0.4,0.5,0.6,0.7,0.8,0.88,0.95,1],"range":["#403488","#3650a8","#2f78c4","#2a9cb4","#2db09c","#6cb68c","#a8ac74","#d8a858","#f6ac3e","#eecb40","#e8e344"]},"legend":null},
"stroke":{"field":"v","type":"quantitative","scale":{"domain":[0,0.1,0.25,0.4,0.5,0.6,0.7,0.8,0.88,0.95,1],"range":["#403488","#3650a8","#2f78c4","#2a9cb4","#2db09c","#6cb68c","#a8ac74","#d8a858","#f6ac3e","#eecb40","#e8e344"]},"legend":null}}},
{"data":{"name":"tb"},"mark":{"type":"text","fontSize":21,"color":"#222222"},"encoding":{"text":{"field":"t"},
"x":{"field":"x","type":"quantitative","axis":{"orient":"bottom","values":[-10,-8,-6,-4],"labelExpr":"''+datum.value","labelFontSize":14,"labelAlign":"left","labelBaseline":"middle","labelOffset":0,"labelPadding":14,"title":null}},
"y":{"field":"y","type":"quantitative","axis":{"orient":"left","values":[-13,-11,-9,-7],"labelExpr":"datum.value>-10?''+datum.value:datum.value+'\u00a0'","labelFontSize":14,"labelAlign":"right","labelBaseline":"middle","labelOffset":-3,"labelPadding":6,"title":null}}}},
{"data":{"name":"cb2"},"mark":{"type":"rect","strokeWidth":0.4},"encoding":{"x":{"field":"x","type":"quantitative","axis":null},"x2":{"field":"x2"},"y":{"field":"y","type":"quantitative","axis":null},"y2":{"field":"y2"},"color":{"field":"v","type":"quantitative","legend":null},"stroke":{"field":"v","type":"quantitative","legend":null}}},
{"data":{"name":"bd2"},"mark":{"type":"rect","filled":false,"stroke":"#666666","strokeWidth":1},"encoding":{"x":{"field":"x","type":"quantitative","axis":null},"x2":{"field":"x2"},"y":{"field":"y","type":"quantitative","axis":null},"y2":{"field":"y2"}}},
{"data":{"name":"lb2"},"mark":{"type":"text","fontSize":15,"align":"left","color":"#555555"},"encoding":{"text":{"field":"t"},"x":{"field":"x","type":"quantitative","axis":null},"y":{"field":"y","type":"quantitative","axis":null}}}]},
{"width":197,"height":166,"resolve":{"axis":{"x":"independent","y":"independent"}},"layer":[
{"data":{"name":"c"},"mark":{"type":"rect","strokeWidth":0.4},"encoding":{
"x":{"field":"x","type":"quantitative","scale":{"domain":[-10,-2],"nice":false,"zero":false},"axis":{"orient":"bottom","values":[-10,-8,-6,-4],"labelExpr":"datum.value==-10?'10\u2009':'10'","labelFontSize":17,"labelAlign":"right","labelBaseline":"middle","labelOffset":-2,"labelPadding":21,"title":"phage recombination rate","titleFontSize":17.2,"titleX":102,"titlePadding":1}},"x2":{"field":"x2"},
"y":{"field":"y","type":"quantitative","scale":{"domain":[-13,-5],"nice":false,"zero":false},"axis":{"orient":"left","values":[-13,-11,-9,-7],"labelExpr":"datum.value>-10?'10':'10\u00a0\u00a0'","labelFontSize":17,"labelAlign":"right","labelBaseline":"middle","labelOffset":3.5,"labelPadding":27,"title":"Bacterial exposure rate","titleFontSize":15.8,"titleX":-60,"titleY":104,"titleBaseline":"middle"}},"y2":{"field":"y2"},
"color":{"field":"v","type":"quantitative","scale":{"domain":[0,0.1,0.25,0.4,0.5,0.6,0.7,0.8,0.88,0.95,1],"range":["#403488","#3650a8","#2f78c4","#2a9cb4","#2db09c","#6cb68c","#a8ac74","#d8a858","#f6ac3e","#eecb40","#e8e344"]},"legend":null},
"stroke":{"field":"v","type":"quantitative","scale":{"domain":[0,0.1,0.25,0.4,0.5,0.6,0.7,0.8,0.88,0.95,1],"range":["#403488","#3650a8","#2f78c4","#2a9cb4","#2db09c","#6cb68c","#a8ac74","#d8a858","#f6ac3e","#eecb40","#e8e344"]},"legend":null}}},
{"data":{"name":"tc"},"mark":{"type":"text","fontSize":21,"color":"#222222"},"encoding":{"text":{"field":"t"},
"x":{"field":"x","type":"quantitative","axis":{"orient":"bottom","values":[-10,-8,-6,-4],"labelExpr":"''+datum.value","labelFontSize":14,"labelAlign":"left","labelBaseline":"middle","labelOffset":0,"labelPadding":14,"title":null}},
"y":{"field":"y","type":"quantitative","axis":{"orient":"left","values":[-13,-11,-9,-7],"labelExpr":"datum.value>-10?''+datum.value:datum.value+'\u00a0'","labelFontSize":14,"labelAlign":"right","labelBaseline":"middle","labelOffset":-3,"labelPadding":9,"title":null}}}},
{"data":{"name":"cb1"},"mark":{"type":"rect","strokeWidth":0.4},"encoding":{"x":{"field":"x","type":"quantitative","axis":null},"x2":{"field":"x2"},"y":{"field":"y","type":"quantitative","axis":null},"y2":{"field":"y2"},"color":{"field":"v","type":"quantitative","legend":null},"stroke":{"field":"v","type":"quantitative","legend":null}}},
{"data":{"name":"bd1"},"mark":{"type":"rect","filled":false,"stroke":"#666666","strokeWidth":1},"encoding":{"x":{"field":"x","type":"quantitative","axis":null},"x2":{"field":"x2"},"y":{"field":"y","type":"quantitative","axis":null},"y2":{"field":"y2"}}},
{"data":{"name":"lb1"},"mark":{"type":"text","fontSize":15,"align":"left","color":"#555555"},"encoding":{"text":{"field":"t"},"x":{"field":"x","type":"quantitative","axis":null},"y":{"field":"y","type":"quantitative","axis":null}}}]},
{"width":197,"height":166,"resolve":{"axis":{"x":"independent","y":"independent"}},"layer":[
{"data":{"name":"d"},"mark":{"type":"rect","strokeWidth":0.4},"encoding":{
"x":{"field":"x","type":"quantitative","scale":{"domain":[-10,-2],"nice":false,"zero":false},"axis":{"orient":"bottom","values":[-10,-8,-6,-4],"labelExpr":"datum.value==-10?'10\u2009':'10'","labelFontSize":17,"labelAlign":"right","labelBaseline":"middle","labelOffset":-2,"labelPadding":21,"title":"phage recombination rate","titleFontSize":17.2,"titleX":104,"titlePadding":1}},"x2":{"field":"x2"},
"y":{"field":"y","type":"quantitative","scale":{"domain":[-13,-5],"nice":false,"zero":false},"axis":{"orient":"left","values":[-13,-11,-9,-7],"labelExpr":"datum.value>-10?'10':'10\u00a0\u00a0'","labelFontSize":17,"labelAlign":"right","labelBaseline":"middle","labelOffset":3.5,"labelPadding":24,"title":"Bacterial exposure rate","titleFontSize":15.8,"titleX":-57,"titleY":104,"titleBaseline":"middle"}},"y2":{"field":"y2"},
"color":{"field":"v","type":"quantitative","scale":{"domain":[0,0.1,0.25,0.4,0.5,0.6,0.7,0.8,0.88,0.95,1],"range":["#403488","#3650a8","#2f78c4","#2a9cb4","#2db09c","#6cb68c","#a8ac74","#d8a858","#f6ac3e","#eecb40","#e8e344"]},"legend":null},
"stroke":{"field":"v","type":"quantitative","scale":{"domain":[0,0.1,0.25,0.4,0.5,0.6,0.7,0.8,0.88,0.95,1],"range":["#403488","#3650a8","#2f78c4","#2a9cb4","#2db09c","#6cb68c","#a8ac74","#d8a858","#f6ac3e","#eecb40","#e8e344"]},"legend":null}}},
{"data":{"name":"td"},"mark":{"type":"text","fontSize":21,"color":"#222222"},"encoding":{"text":{"field":"t"},
"x":{"field":"x","type":"quantitative","axis":{"orient":"bottom","values":[-10,-8,-6,-4],"labelExpr":"''+datum.value","labelFontSize":14,"labelAlign":"left","labelBaseline":"middle","labelOffset":0,"labelPadding":14,"title":null}},
"y":{"field":"y","type":"quantitative","axis":{"orient":"left","values":[-13,-11,-9,-7],"labelExpr":"datum.value>-10?''+datum.value:datum.value+'\u00a0'","labelFontSize":14,"labelAlign":"right","labelBaseline":"middle","labelOffset":-3,"labelPadding":6,"title":null}}}},
{"data":{"name":"cb2"},"mark":{"type":"rect","strokeWidth":0.4},"encoding":{"x":{"field":"x","type":"quantitative","axis":null},"x2":{"field":"x2"},"y":{"field":"y","type":"quantitative","axis":null},"y2":{"field":"y2"},"color":{"field":"v","type":"quantitative","legend":null},"stroke":{"field":"v","type":"quantitative","legend":null}}},
{"data":{"name":"bd2"},"mark":{"type":"rect","filled":false,"stroke":"#666666","strokeWidth":1},"encoding":{"x":{"field":"x","type":"quantitative","axis":null},"x2":{"field":"x2"},"y":{"field":"y","type":"quantitative","axis":null},"y2":{"field":"y2"}}},
{"data":{"name":"lb2"},"mark":{"type":"text","fontSize":15,"align":"left","color":"#555555"},"encoding":{"text":{"field":"t"},"x":{"field":"x","type":"quantitative","axis":null},"y":{"field":"y","type":"quantitative","axis":null}}}]}
]}
